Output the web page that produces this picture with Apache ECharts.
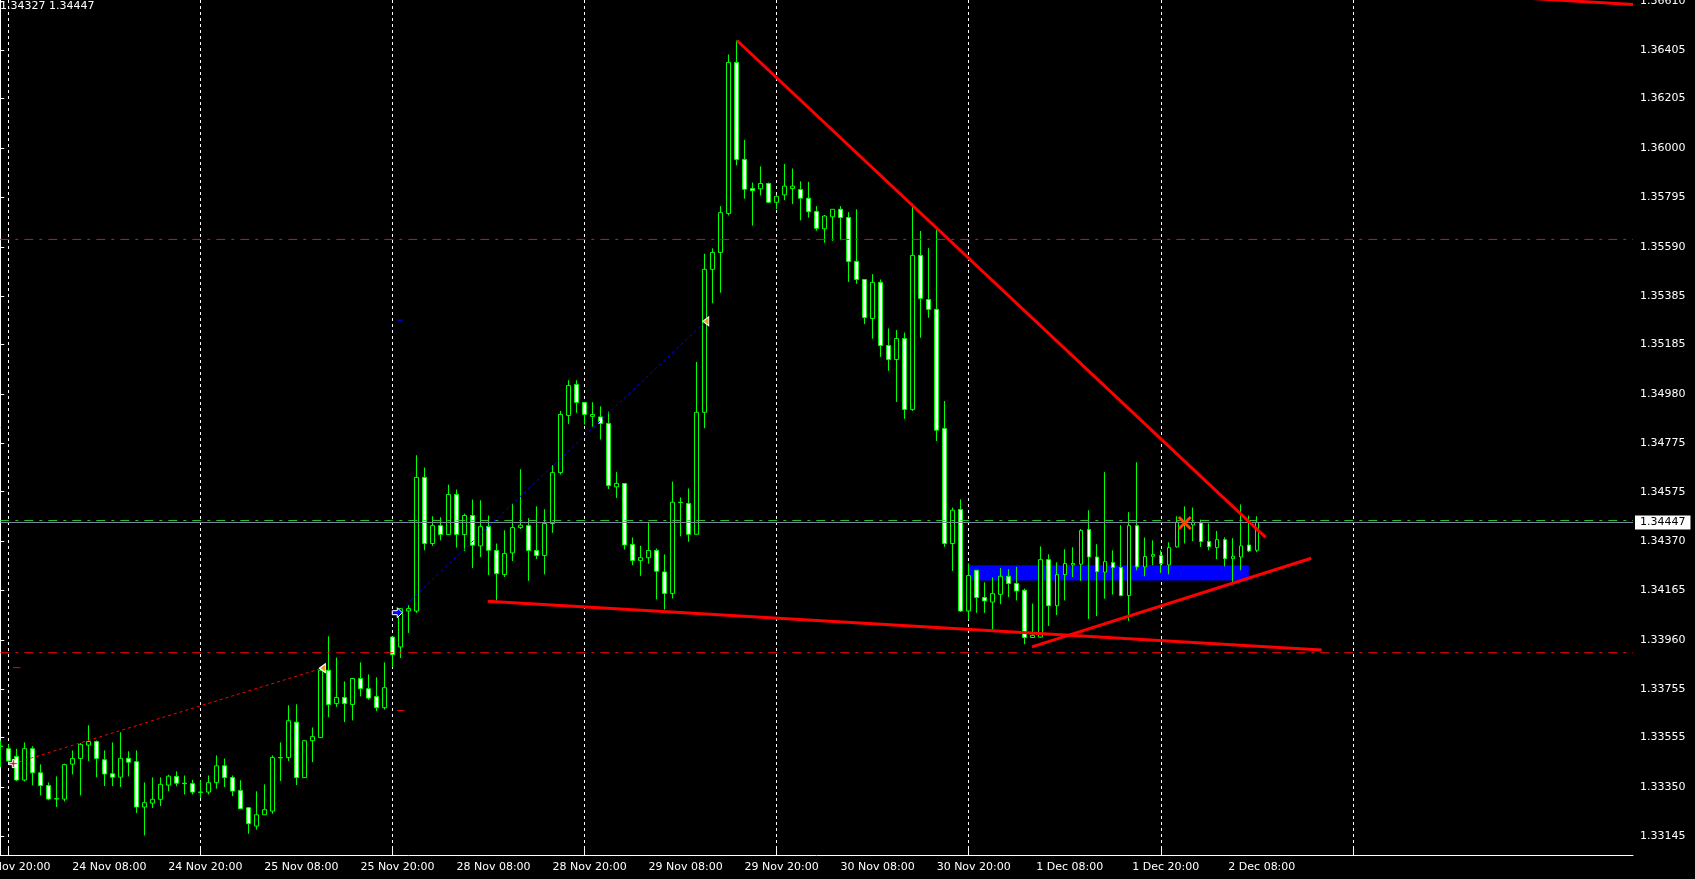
<!DOCTYPE html>
<html>
<head>
<meta charset="utf-8">
<script src="https://cdn.jsdelivr.net/npm/echarts@6/dist/echarts.min.js"></script>
<style>
html,body{margin:0;padding:0;background:#000;}
#chart{width:1695px;height:879px;}
</style>
</head>
<body>
<div id="chart"></div>
<script>
// ---- Data (H1 candles) ----
const dayNames = ['23 Nov','24 Nov','25 Nov','28 Nov','29 Nov','30 Nov','1 Dec','2 Dec','5 Dec','6 Dec'];
const firstHour = 19;
const slotCount = 205;

const opens = [1.33520,1.33509,1.33477,1.33379,1.33509,1.33409,1.33356,1.33302,1.33300,1.33445,
1.33468,1.33524,1.33539,1.33463,1.33405,1.33391,1.33469,1.33455,1.33267,1.33283,
1.33299,1.33358,1.33394,1.33366,1.33364,1.33329,1.33329,1.33368,1.33438,1.33389,
1.33336,1.33264,1.33188,1.33235,1.33250,1.33472,1.33472,1.33619,1.33389,1.33542,
1.33555,1.33834,1.33696,1.33721,1.33692,1.33800,1.33758,1.33725,1.33679,1.33972,
1.33931,1.34080,1.34080,1.34634,1.34360,1.34434,1.34397,1.34563,1.34397,1.34476,
1.34350,1.34430,1.34331,1.34231,1.34321,1.34426,1.34434,1.34331,1.34310,1.34443,
1.34654,1.34891,1.35019,1.34945,1.34887,1.34885,1.34858,1.34595,1.34609,1.34356,
1.34289,1.34301,1.34331,1.34242,1.34153,1.34531,1.34526,1.34398,1.34904,1.35497,
1.35567,1.35729,1.36355,1.35953,1.35832,1.35831,1.35853,1.35775,1.35806,1.35832,
1.35828,1.35792,1.35737,1.35665,1.35715,1.35746,1.35712,1.35530,1.35455,1.35293,
1.35443,1.35181,1.35123,1.35210,1.34916,1.35555,1.35372,1.35331,1.34837,1.34360,
1.34501,1.34080,1.34249,1.34136,1.34117,1.34149,1.34224,1.34194,1.34166,1.33970,
1.33972,1.34293,1.34102,1.34231,1.34271,1.34274,1.34418,1.34304,1.34241,1.34281,
1.34260,1.34144,1.34434,1.34263,1.34307,1.34310,1.34271,1.34346,1.34443,1.34437,
1.34445,1.34368,1.34343,1.34376,1.34297,1.34304,1.34354,1.34332];

const closes = [1.33518,1.33458,1.33379,1.33509,1.33409,1.33356,1.33300,1.33300,1.33443,1.33468,
1.33527,1.33539,1.33468,1.33404,1.33391,1.33469,1.33453,1.33267,1.33285,1.33299,
1.33361,1.33395,1.33366,1.33364,1.33329,1.33328,1.33368,1.33438,1.33389,1.33333,
1.33260,1.33198,1.33235,1.33256,1.33472,1.33471,1.33625,1.33389,1.33542,1.33559,
1.33834,1.33692,1.33721,1.33696,1.33800,1.33758,1.33719,1.33679,1.33762,1.33899,
1.34090,1.34090,1.34634,1.34360,1.34434,1.34397,1.34563,1.34397,1.34476,1.34353,
1.34430,1.34332,1.34235,1.34318,1.34426,1.34436,1.34331,1.34310,1.34443,1.34654,
1.34895,1.35015,1.34945,1.34895,1.34895,1.34858,1.34600,1.34609,1.34354,1.34289,
1.34301,1.34331,1.34245,1.34153,1.34531,1.34530,1.34398,1.34904,1.35497,1.35567,
1.35732,1.36355,1.35953,1.35829,1.35823,1.35853,1.35775,1.35800,1.35842,1.35842,
1.35792,1.35736,1.35667,1.35718,1.35746,1.35712,1.35530,1.35455,1.35297,1.35443,
1.35181,1.35123,1.35210,1.34916,1.35555,1.35376,1.35331,1.34830,1.34360,1.34498,
1.34080,1.34227,1.34136,1.34122,1.34152,1.34224,1.34194,1.34163,1.33970,1.33979,
1.34293,1.34102,1.34231,1.34277,1.34277,1.34414,1.34304,1.34243,1.34285,1.34260,
1.34144,1.34434,1.34263,1.34306,1.34314,1.34277,1.34343,1.34449,1.34448,1.34448,
1.34368,1.34346,1.34376,1.34297,1.34307,1.34350,1.34329,1.34447];

const lows = [1.33433,1.33453,1.33375,1.33373,1.33357,1.33315,1.33295,1.33267,1.33290,1.33402,
1.33315,1.33458,1.33391,1.33354,1.33354,1.33350,1.33394,1.33242,1.33149,1.33263,
1.33271,1.33332,1.33353,1.33319,1.33319,1.33304,1.33319,1.33343,1.33350,1.33312,
1.33258,1.33156,1.33173,1.33234,1.33239,1.33375,1.33458,1.33358,1.33389,1.33453,
1.33553,1.33640,1.33682,1.33619,1.33626,1.33726,1.33712,1.33665,1.33671,1.33848,
1.33885,1.33989,1.34072,1.34332,1.34350,1.34373,1.34395,1.34343,1.34329,1.34258,
1.34304,1.34229,1.34124,1.34221,1.34287,1.34420,1.34205,1.34296,1.34232,1.34404,
1.34646,1.34856,1.34902,1.34853,1.34844,1.34791,1.34586,1.34549,1.34335,1.34270,
1.34226,1.34276,1.34128,1.34086,1.34132,1.34390,1.34367,1.34398,1.34838,1.35356,
1.35400,1.35720,1.35928,1.35790,1.35678,1.35803,1.35772,1.35746,1.35784,1.35768,
1.35700,1.35711,1.35657,1.35607,1.35615,1.35618,1.35445,1.35437,1.35270,1.35209,
1.35134,1.35076,1.34947,1.34877,1.34910,1.35213,1.35296,1.34785,1.34346,1.34246,
1.34076,1.34044,1.34072,1.34072,1.34003,1.34108,1.34138,1.34124,1.33942,1.33970,
1.33970,1.34018,1.34063,1.34124,1.34221,1.34205,1.34047,1.34059,1.34131,1.34148,
1.34141,1.34039,1.34249,1.34224,1.34270,1.34238,1.34232,1.34343,1.34360,1.34370,
1.34346,1.34332,1.34295,1.34265,1.34200,1.34249,1.34324,1.34324];

const highs = [1.33543,1.33527,1.33509,1.33535,1.33519,1.33444,1.33369,1.33394,1.33447,1.33502,
1.33532,1.33606,1.33543,1.33502,1.33535,1.33577,1.33498,1.33502,1.33369,1.33390,
1.33390,1.33401,1.33415,1.33398,1.33380,1.33378,1.33398,1.33481,1.33468,1.33398,
1.33378,1.33267,1.33332,1.33361,1.33481,1.33535,1.33689,1.33693,1.33542,1.33597,
1.33841,1.33975,1.33887,1.33788,1.33800,1.33867,1.33817,1.33805,1.33867,1.33975,
1.34092,1.34104,1.34726,1.34675,1.34473,1.34469,1.34604,1.34584,1.34484,1.34542,
1.34539,1.34476,1.34360,1.34415,1.34526,1.34668,1.34465,1.34514,1.34502,1.34685,
1.34910,1.35037,1.35037,1.34947,1.34946,1.34929,1.34907,1.34656,1.34609,1.34385,
1.34351,1.34448,1.34339,1.34315,1.34617,1.34551,1.34588,1.35113,1.35562,1.35584,
1.35759,1.36388,1.36446,1.36034,1.35857,1.35924,1.35857,1.35806,1.35934,1.35915,
1.35862,1.35860,1.35759,1.35723,1.35746,1.35759,1.35734,1.35746,1.35455,1.35477,
1.35455,1.35252,1.35245,1.35235,1.35770,1.35656,1.35585,1.35660,1.34951,1.34509,
1.34543,1.34277,1.34249,1.34199,1.34219,1.34258,1.34253,1.34263,1.34173,1.34111,
1.34348,1.34315,1.34282,1.34336,1.34344,1.34420,1.34498,1.34357,1.34656,1.34332,
1.34436,1.34490,1.34697,1.34385,1.34373,1.34332,1.34365,1.34473,1.34514,1.34509,
1.34459,1.34443,1.34412,1.34385,1.34382,1.34522,1.34476,1.34473];

// price-axis tick labels
const priceTicks = [1.36610,1.36405,1.36205,1.36000,1.35795,1.35590,1.35385,1.35185,1.34980,
1.34775,1.34575,1.34370,1.34165,1.33960,1.33755,1.33555,1.33350,1.33145];

// chart objects (bar index, price)
const downTrend = [[92.05, 1.36446], [158.1, 1.34385]];
const supportLine = [[60.9, 1.34120], [165.1, 1.33918]];
const risingLine = [[128.9, 1.33931], [163.8, 1.34299]];
const upperChannel = [[190, 1.36623], [204, 1.36595]];
const sellTrade = [[1.625, 1.33447], [40.25, 1.33843]];
const buyTrade = [[49.6, 1.34073], [88.15, 1.35282]];
const redLevels = [1.35621, 1.33907];
const greenLevel = 1.34455;
const bidPrice = 1.34447;
const askText = '1.34327 1.34447';
const zoneBox = [121, 156, 1.34270, 1.34207];
const stopDashes = [[1.6, 2.5, 1.33845], [49.55, 50.5, 1.33667]];
const targetDashes = [[49.6, 50.3, 1.35286]];
const openMarks = { sell: [1.625, 1.33447], buy: [49.6, 1.34073] };
const closeMarks = [[40.25, 1.33843], [88.15, 1.35282]];
const crossMark = [148, 1.34445];

// ---- build ----
const categories = [];
dayNames.forEach((d, k) => {
  for (let h = (k === 0 ? firstHour : 0); h < 24; h++) {
    categories.push(d + ' ' + String(h).padStart(2, '0') + ':00');
  }
});
categories.length = slotCount;
const lastBar = opens.length - 1;
const lastSlot = slotCount - 1;
const candles = opens.map((o, i) => [o, closes[i], lows[i], highs[i]]);

const labelShown = (i) => (i - 1) % 12 === 0 && i <= lastBar;
const gridShown = (i) => (i - 1) % 24 === 0 && i <= lastBar + 12;

const FONT = 'DejaVu Sans';
const lineSeries = (data, color, width, type, z) => ({
  type: 'line', xAxisIndex: 1, yAxisIndex: 0, data: data, symbol: 'none', showSymbol: false,
  silent: true, z: z, clip: true,
  lineStyle: { color: color, width: width, type: type, cap: 'butt' }
});
const levelSeries = (price, color, type) => lineSeries([[0, price], [lastSlot, price]], color, 1, type, 3);

const series = [
  {
    type: 'custom', xAxisIndex: 1, yAxisIndex: 0, z: 1, silent: true,
    data: [zoneBox], encode: { x: [0, 1], y: [2, 3] },
    renderItem: function (params, api) {
      const p1 = api.coord([api.value(0), api.value(2)]);
      const p2 = api.coord([api.value(1), api.value(3)]);
      return { type: 'rect', shape: { x: p1[0], y: p1[1], width: p2[0] - p1[0], height: p2[1] - p1[1] },
        style: { fill: '#0000ff' } };
    }
  },
  {
    type: 'candlestick', xAxisIndex: 0, yAxisIndex: 0, z: 2, data: candles,
    barWidth: 4, clip: true, silent: true,
    itemStyle: { color: '#000000', color0: '#ffffff', borderColor: '#00ff00', borderColor0: '#00ff00',
      borderColorDoji: '#00ff00', borderWidth: 1 }
  },
  levelSeries(redLevels[0], '#ff0000', [9, 6, 3, 6]),
  levelSeries(redLevels[1], '#ff0000', [9, 6, 3, 6]),
  levelSeries(greenLevel, '#32cd32', [9, 6, 3, 6]),
  Object.assign(levelSeries(bidPrice, '#778899', 'solid'), {
    endLabel: { show: true, distance: 2, formatter: () => bidPrice.toFixed(5),
      backgroundColor: '#ffffff', color: '#000000', padding: [2, 5, 1, 5],
      fontFamily: FONT, fontSize: 11 }
  }),
  lineSeries(downTrend, '#ff0000', 3, 'solid', 4),
  lineSeries(supportLine, '#ff0000', 3, 'solid', 4),
  lineSeries(risingLine, '#ff0000', 3, 'solid', 4),
  lineSeries(upperChannel, '#ff0000', 3, 'solid', 4),
  lineSeries(sellTrade, '#ff0000', 1, [3, 3], 4),
  lineSeries(buyTrade, '#0000ff', 1, [3, 3], 4)
];
stopDashes.forEach(d => series.push(lineSeries([[d[0], d[2]], [d[1], d[2]]], '#ff0000', 1, 'solid', 4)));
targetDashes.forEach(d => series.push(lineSeries([[d[0], d[2]], [d[1], d[2]]], '#0000ff', 1, 'solid', 4)));

const markerSeries = (data, symbol, size, fill, stroke, rotate) => ({
  type: 'scatter', xAxisIndex: 1, yAxisIndex: 0, data: data, z: 5, silent: true,
  symbol: symbol, symbolSize: size, symbolRotate: rotate || 0,
  itemStyle: { color: fill, borderColor: stroke, borderWidth: stroke ? 1 : 0, opacity: 1 }
});
series.push(markerSeries([openMarks.sell], 'path://M3,0H5V3H8V5H5V8H3V5H0V3H3Z', 8, '#ff0000', '#ffffff'));
series.push(markerSeries([openMarks.buy], 'path://M0,3H4V0L8,5L4,10V7H0Z', [10, 10], '#0000ff', '#ffffff'));
series.push(markerSeries(closeMarks, 'path://M0,4L6,0L6,8Z', [6, 9], '#daa520', '#ffffff'));
series.push(markerSeries([crossMark], 'path://M0,2L2,0L7,5L12,0L14,2L9,7L14,12L12,14L7,9L2,14L0,12L5,7Z', 14, '#ff4500', null));

const chart = echarts.init(document.getElementById('chart'), null, { renderer: 'canvas' });
chart.setOption({
  backgroundColor: '#000000',
  animation: false,
  graphic: [{
    type: 'text', left: 0, top: 1, z: 10,
    style: { text: askText, fill: '#ffffff', font: '11px "' + FONT + '"' }
  }],
  grid: { left: 0.3, right: 62, top: 0, bottom: 23.5, containLabel: false, outerBoundsMode: 'none' },
  xAxis: [
    {
      type: 'category', data: categories, boundaryGap: false, position: 'bottom',
      axisLine: { show: true, lineStyle: { color: '#ffffff', width: 1 } },
      axisTick: { show: true, inside: true, length: 7, interval: (i) => gridShown(i), lineStyle: { color: '#ffffff' } },
      axisLabel: { show: true, interval: (i) => labelShown(i), color: '#ffffff', fontFamily: FONT, fontSize: 11,
        margin: 6, padding: [0, 0, 0, 10] },
      splitLine: { show: true, interval: (i) => gridShown(i), lineStyle: { color: '#ffffff', width: 1, type: [3, 3] } }
    },
    {
      type: 'value', min: 0, max: lastSlot, show: false, splitLine: { show: false }
    }
  ],
  yAxis: [{
    type: 'value', position: 'right', min: 1.33066, max: 1.36614, scale: true,
    axisLine: { show: true, lineStyle: { color: '#ffffff', width: 1 } },
    axisTick: { show: true, length: 4, customValues: priceTicks, lineStyle: { color: '#ffffff' } },
    axisLabel: { show: true, customValues: priceTicks, formatter: (v) => Number(v).toFixed(5),
      color: '#ffffff', fontFamily: FONT, fontSize: 11, margin: 7 },
    splitLine: { show: false }
  }],
  series: series
});
</script>
</body>
</html>
